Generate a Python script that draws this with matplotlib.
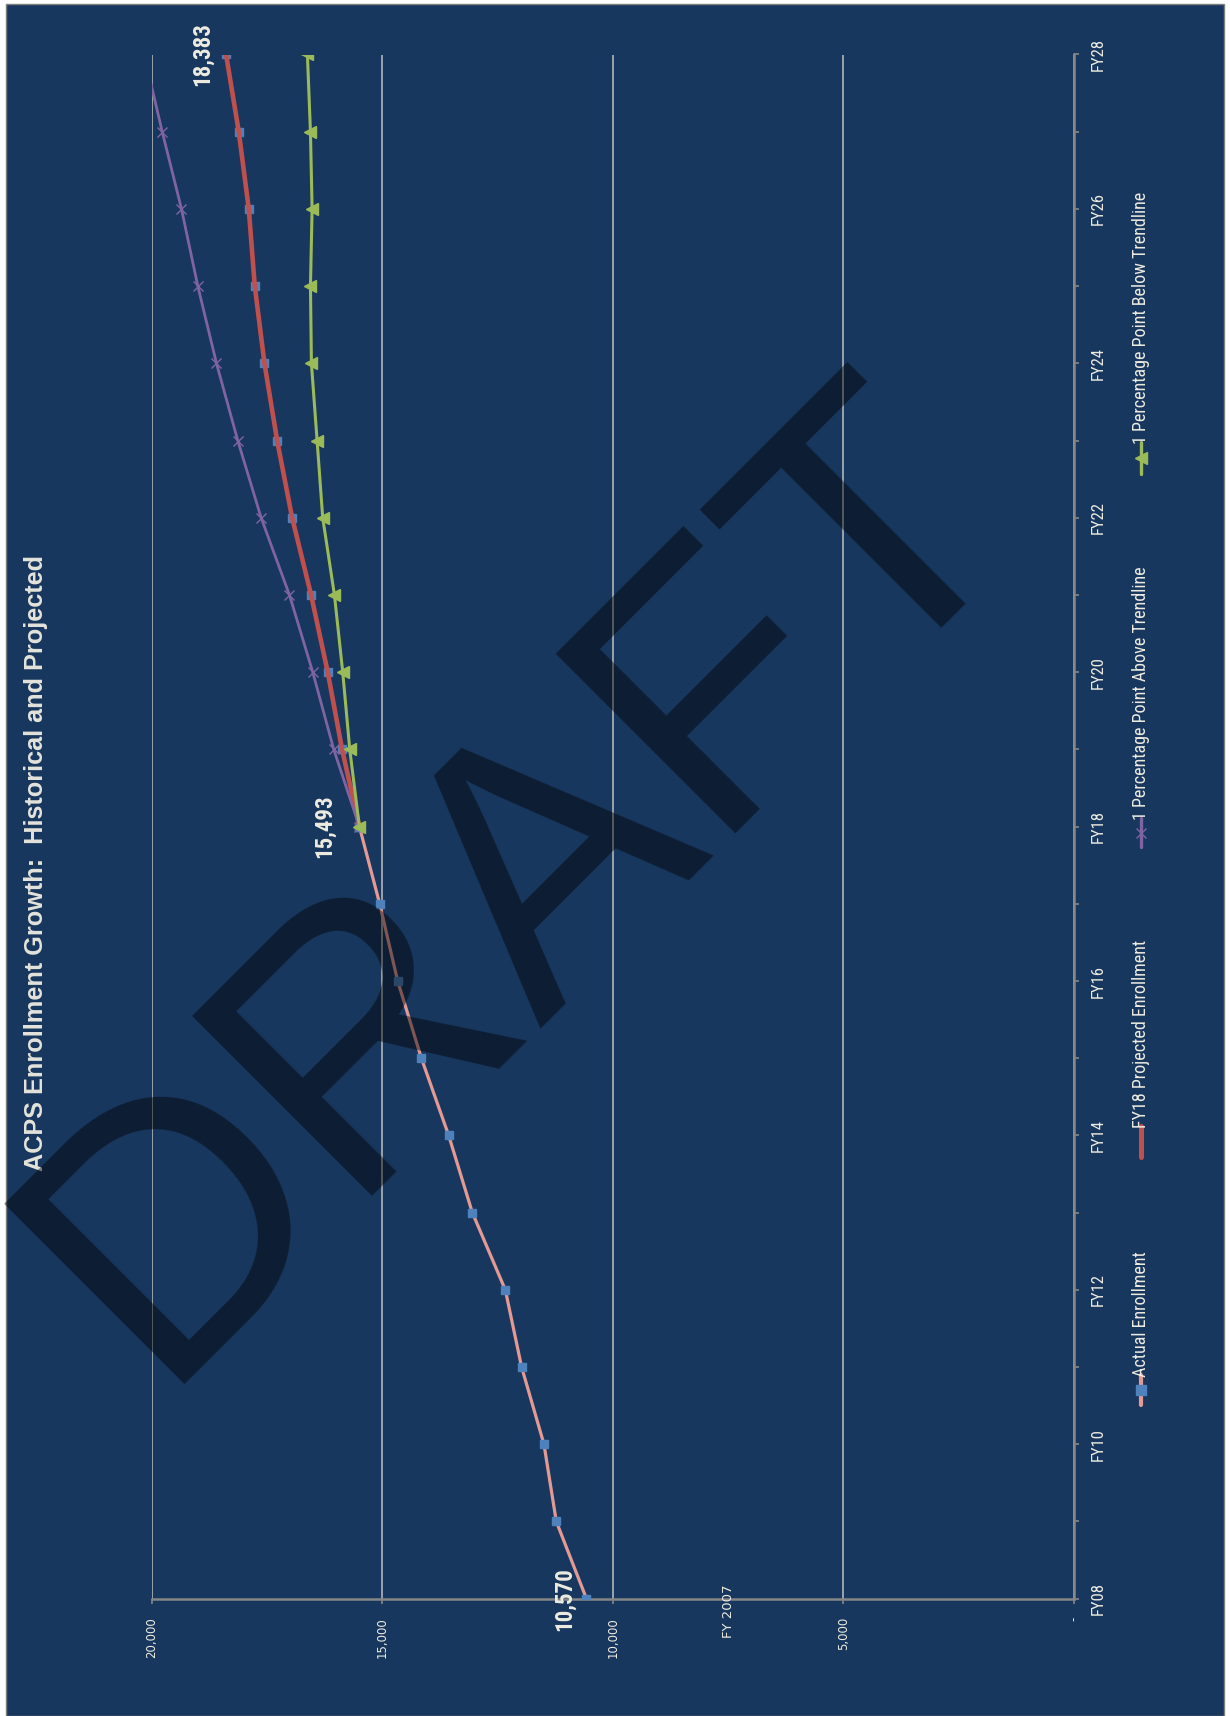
import matplotlib
matplotlib.use("Agg")
import matplotlib.pyplot as plt
from matplotlib.patches import Rectangle
from matplotlib.lines import Line2D

# ---------------- data ----------------
categories = ['FY08', 'FY09', 'FY10', 'FY11', 'FY12', 'FY13', 'FY14', 'FY15', 'FY16', 'FY17',
              'FY18', 'FY19', 'FY20', 'FY21', 'FY22', 'FY23', 'FY24', 'FY25', 'FY26', 'FY27', 'FY28']
actual = [10570, 11224, 11491, 11976, 12329, 13044, 13557, 14149, 14663, 15053, 15493]      # FY08-FY18
projected = [15493, 15868, 16179, 16540, 16951, 17276, 17551, 17761, 17891, 18108, 18383]  # FY18-FY28
above = [15493, 16049, 16504, 17009, 17623, 18130, 18591, 18996, 19350, 19768, 20160]      # FY18-FY28
below = [15493, 15702, 15854, 16034, 16288, 16410, 16533, 16554, 16518, 16554, 16620]      # FY18-FY28
value_ticks = [20000, 15000, 10000, 5000, 0]
value_ticklabels = ['20,000', '15,000', '10,000', '5,000', '-']
series_names = ['Actual Enrollment', 'FY18 Projected Enrollment',
                '1 Percentage Point Above Trendline', '1 Percentage Point Below Trendline']
title = 'ACPS Enrollment Growth:  Historical and Projected'

# ---------------- style ----------------
W, H = 1230, 1716
NAVY = '#18375E'
CREAM = '#EEECE1'
GRID = '#BFBFBF'
AXIS = '#868686'
PINK = '#E39A95'
BLUE = '#4F81BD'
RED = '#C0504D'
PURPLE = '#8064A2'
GREEN = '#9BBB59'
NARROW = ['Roboto Condensed', 'DejaVu Sans']
ARIAL = ['Liberation Sans', 'DejaVu Sans']
STRETCH = 'condensed'


def fx(px):
    return px / W


def fy(py):
    return 1 - py / H


fig = plt.figure(figsize=(W / 100, H / 100), dpi=100, facecolor='white')
bg = Rectangle((fx(6), 0), fx(1224) - fx(6), fy(4), transform=fig.transFigure,
               facecolor=NAVY, edgecolor='#7F7F7F', linewidth=1.0, zorder=-10)
fig.add_artist(bg)

x0, x1 = 151.5, 1074.0
ytop, ybot = 54.5, 1598.7
ax = fig.add_axes([fx(x0), fy(ybot), (x1 - x0) / W, (ybot - ytop) / H])
ax.set_facecolor('none')

idx_all = list(range(len(categories)))
idx_act = idx_all[:len(actual)]
idx_proj = idx_all[len(actual) - 1:]

ax.plot(actual, idx_act, color=PINK, lw=2.3, marker='s', ms=5.8, mfc=BLUE, mec=BLUE, zorder=3)
ax.plot(projected, idx_proj, color='none', marker='s', ms=5.8, mfc=BLUE, mec=BLUE, ls='none', zorder=3)
ax.plot(projected, idx_proj, color=RED, lw=3.3, zorder=4, solid_capstyle='butt')
ax.plot(above, idx_proj, color=PURPLE, lw=2.0, marker='x', ms=7, mew=1.0, mec=PURPLE, zorder=4)
ax.plot(below, idx_proj, color=GREEN, lw=2.2, marker='<', ms=8, mfc=GREEN, mec=GREEN, zorder=4)

ax.set_xlim(20000, 0)
ax.set_ylim(0, len(categories) - 1)

# value axis (horizontal, bottom)
ax.set_xticks(value_ticks)
ax.set_xticklabels(value_ticklabels, rotation=90, fontsize=8.5, color=CREAM,
                   family=['DejaVu Sans'])
ax.tick_params(axis='x', direction='out', length=3.6, width=1.2, color=AXIS, pad=9.5)
ax.grid(axis='x', color=GRID, lw=1.1, zorder=1)
ax.set_axisbelow(True)

# category axis (vertical, right)
ax.yaxis.tick_right()
ax.set_yticks(idx_all)
ax.set_yticklabels([c if i % 2 == 0 else '' for i, c in enumerate(categories)],
                   rotation=90, fontsize=12, color=CREAM, family=NARROW, fontstretch=STRETCH,
                   va='center')
ax.tick_params(axis='y', direction='out', length=3.6, width=1.2, color=AXIS, pad=8.5)

for s in ['left', 'top']:
    ax.spines[s].set_visible(False)
for s in ['right', 'bottom']:
    ax.spines[s].set_color(AXIS)
    ax.spines[s].set_linewidth(1.8)

# data labels
for val, i, dx in [(actual[0], idx_act[0], -16), (projected[0], idx_proj[0], -25),
                   (projected[-1], idx_proj[-1], -17)]:
    ax.annotate(f'{val:,}', (val, i), xytext=(dx, 0), textcoords='offset points',
                rotation=90, ha='center', va='center', fontsize=16.5, fontweight='bold',
                color=CREAM, family=NARROW, fontstretch=STRETCH, zorder=6,
                annotation_clip=False)

# title
fig.text(fx(36), fy(1171), title, rotation=90, ha='center', va='bottom', fontsize=18.2,
         fontweight='bold', color='#E4E4DC', family=ARIAL)

# stray text box
fig.text(fx(729), fy(1638), 'FY 2007', rotation=90, ha='center', va='bottom', fontsize=9.5,
         color=CREAM, family=['DejaVu Sans'])

# legend (manual, rotated)
leg_x = 1141
legend_specs = [
    (series_names[0], 1405, 1375, dict(color=PINK, lw=3.0, marker='s', ms=6.5, mfc=BLUE, mec=BLUE)),
    (series_names[1], 1157, 1126, dict(color=RED, lw=3.6)),
    (series_names[2], 847, 818, dict(color=PURPLE, lw=2.4, marker='x', ms=7, mew=1.0, mec=PURPLE)),
    (series_names[3], 474, 442, dict(color=GREEN, lw=2.4, marker='<', ms=8, mfc=GREEN, mec=GREEN)),
]
for name, ya, yb, kw in legend_specs:
    fig.add_artist(Line2D([fx(leg_x), fx(leg_x)], [fy(ya), fy(yb)], transform=fig.transFigure,
                          color=kw['color'], lw=kw['lw'], solid_capstyle='round'))
    if 'marker' in kw:
        fig.add_artist(Line2D([fx(leg_x)], [fy((ya + yb) / 2)], transform=fig.transFigure,
                              ls='none', marker=kw['marker'], ms=kw['ms'], mfc=kw.get('mfc', kw['color']),
                              mec=kw.get('mec', kw['color']), mew=kw.get('mew', 1.0)))
    fig.text(fx(leg_x), fy(yb + 2), name, rotation=90, ha='center', va='bottom', fontsize=13,
             color=CREAM, family=NARROW, fontstretch=STRETCH)

# DRAFT watermark
fig.text(fx(590), fy(948), 'DRAFT', rotation=45, rotation_mode='anchor', ha='center',
         va='baseline', fontsize=266, color=(0, 0, 0, 0.45), family=ARIAL, zorder=50)

fig.savefig('out.png', dpi=100, facecolor='white')
